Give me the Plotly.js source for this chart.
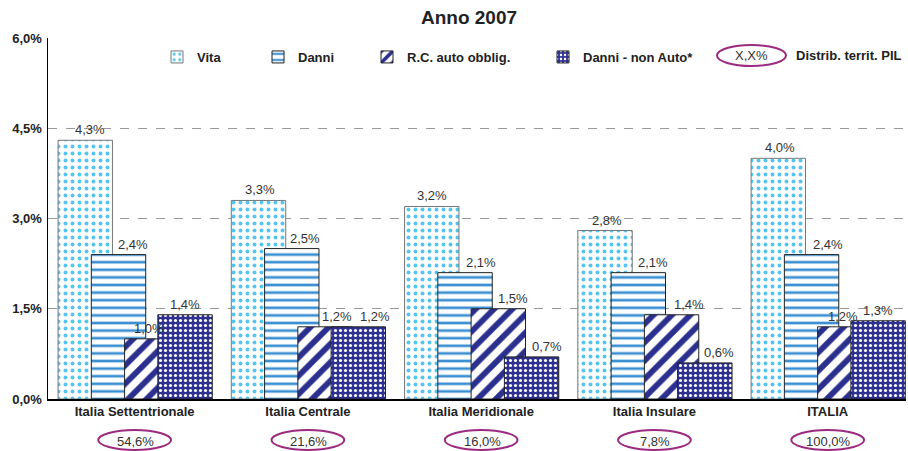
<!DOCTYPE html>
<html><head><meta charset="utf-8">
<script src="https://cdn.plot.ly/plotly-3.0.1.min.js"></script>
<style>html,body{margin:0;padding:0;background:#fff}#c{width:908px;height:451px}</style>
</head><body><div id="c"></div>
<script>
const categories = ["Italia Settentrionale", "Italia Centrale", "Italia Meridionale", "Italia Insulare", "ITALIA"];
const vita = [4.3, 3.3, 3.2, 2.8, 4.0];
const danni = [2.4, 2.5, 2.1, 2.1, 2.4];
const rcAuto = [1.0, 1.2, 1.5, 1.4, 1.2];
const danniNonAuto = [1.4, 1.2, 0.7, 0.6, 1.3];
const pilShare = [54.6, 21.6, 16.0, 7.8, 100.0];
const yTicks = [0, 1.5, 3, 4.5, 6];

const fmt = v => v.toFixed(1).replace('.', ',') + '%';
const FONT = 'Arial, "Liberation Sans", sans-serif';
const BW = 0.314, STEP = 0.192, OFF0 = -0.442;

// horizontal nudges (px) of the value labels, as placed in the original
const labelShift = [
  [5, 1, 0, 2, 2],
  [14, 13, 16, 15, 16],
  [-3, 12, 15, 17, -2],
  [0, 17, 15, 14, 0]
];

const series = [
  {name: 'Vita', y: vita, pattern: {shape: '.', bgcolor: '#ffffff', fgcolor: '#55c4f0', size: 7, solidity: 0.25, fillmode: 'replace'}, line: '#777', legend: 'legend'},
  {name: 'Danni', y: danni, pattern: {shape: '-', bgcolor: '#ffffff', fgcolor: '#3a8fd2', size: 7.6, solidity: 0.35, fillmode: 'replace'}, line: '#222', legend: 'legend2'},
  {name: 'R.C. auto obblig.', y: rcAuto, pattern: {shape: '/', bgcolor: '#ffffff', fgcolor: '#2b2f8e', size: 13, solidity: 0.45, fillmode: 'replace'}, line: '#222', legend: 'legend3'},
  {name: 'Danni - non Auto*', y: danniNonAuto, pattern: {shape: '.', bgcolor: '#2e3192', fgcolor: '#ffffff', size: 5, solidity: 0.3, fillmode: 'replace'}, line: '#222', legend: 'legend4'}
];

const legendPx = [157, 258, 367, 543];
const plotL = 48, plotW = 858;

const traces = series.map((s, k) => ({
  type: 'bar', name: s.name, x: categories, y: s.y,
  offset: OFF0 + k * STEP, width: BW,
  marker: {color: '#ffffff', pattern: s.pattern, line: {color: s.line, width: 1}},
  legend: s.legend, showlegend: true, hoverinfo: 'skip'
}));

const annotations = [];
series.forEach((s, k) => {
  s.y.forEach((v, i) => {
    annotations.push({x: i + OFF0 + k * STEP + BW / 2, y: v, xref: 'x', yref: 'y', text: fmt(v),
      showarrow: false, xanchor: 'center', yanchor: 'bottom', xshift: labelShift[k][i], yshift: 1,
      font: {family: FONT, size: 13, color: '#333'}});
  });
});
const shapes = [];
pilShare.forEach((p, i) => {
  annotations.push({x: i, y: (399 - 441) / 361, xref: 'x', yref: 'paper', text: fmt(p), showarrow: false,
    xanchor: 'center', yanchor: 'middle', xshift: 1,
    font: {family: FONT, size: 13, color: '#333'}});
  shapes.push({type: 'circle', xref: 'x', yref: 'paper', x0: i - 0.21, x1: i + 0.21,
    y0: (399 - 450) / 361, y1: (399 - 430) / 361,
    line: {color: '#9c2a80', width: 2}});
});
// legend ellipse
shapes.push({type: 'circle', xref: 'paper', yref: 'paper', x0: (717 - plotL) / plotW, x1: (786 - plotL) / plotW,
  y0: (399 - 66) / 361, y1: (399 - 45) / 361, line: {color: '#9c2a80', width: 2}});
annotations.push({xref: 'paper', yref: 'paper', x: (751 - plotL) / plotW, y: (399 - 55) / 361, text: 'X,X%',
  xanchor: 'center', yanchor: 'middle',
  showarrow: false, font: {family: FONT, size: 13, color: '#333'}});
annotations.push({xref: 'paper', yref: 'paper', x: (794 - plotL) / plotW, xanchor: 'left', yanchor: 'middle', y: (399 - 56) / 361,
  text: '<b>Distrib. territ. PIL</b>', showarrow: false, font: {family: FONT, size: 13, color: '#222'}});

const legendBase = {orientation: 'h', yref: 'paper', y: (399 - 57) / 361, yanchor: 'middle', xanchor: 'left',
  bgcolor: 'rgba(0,0,0,0)', itemwidth: 30, font: {family: FONT, size: 13, color: '#222', weight: 'bold'}};
const layout = {
  width: 908, height: 451,
  margin: {l: 48, r: 2, t: 38, b: 52},
  paper_bgcolor: '#fff', plot_bgcolor: '#fff',
  separators: ',.',
  barmode: 'overlay',
  showlegend: true,
  title: {text: '<b>Anno 2007</b>', x: 469 / 908, xanchor: 'center', y: 1 - 17 / 451, yref: 'container', yanchor: 'middle',
    font: {family: FONT, size: 19, color: '#222'}},
  xaxis: {type: 'category', range: [-0.5, 4.452], showgrid: false, showline: true, linecolor: '#000', linewidth: 1.5,
    ticks: '', tickfont: {family: FONT, size: 13, color: '#222', weight: 'bold'}, fixedrange: true},
  yaxis: {range: [0, 6], tickvals: yTicks, ticktext: yTicks.map(fmt), showline: true, linecolor: '#000', linewidth: 1.5,
    gridcolor: '#999', griddash: 'dash', gridwidth: 1, zeroline: false, ticks: '', ticklabelstandoff: 2,
    tickfont: {family: FONT, size: 13, color: '#222', weight: 'bold'}, fixedrange: true},
  legend: Object.assign({}, legendBase, {x: (legendPx[0] - plotL) / plotW}),
  legend2: Object.assign({}, legendBase, {x: (legendPx[1] - plotL) / plotW}),
  legend3: Object.assign({}, legendBase, {x: (legendPx[2] - plotL) / plotW}),
  legend4: Object.assign({}, legendBase, {x: (legendPx[3] - plotL) / plotW}),
  annotations: annotations, shapes: shapes
};
Plotly.newPlot('c', traces, layout, {displayModeBar: false, staticPlot: true});
</script></body></html>
